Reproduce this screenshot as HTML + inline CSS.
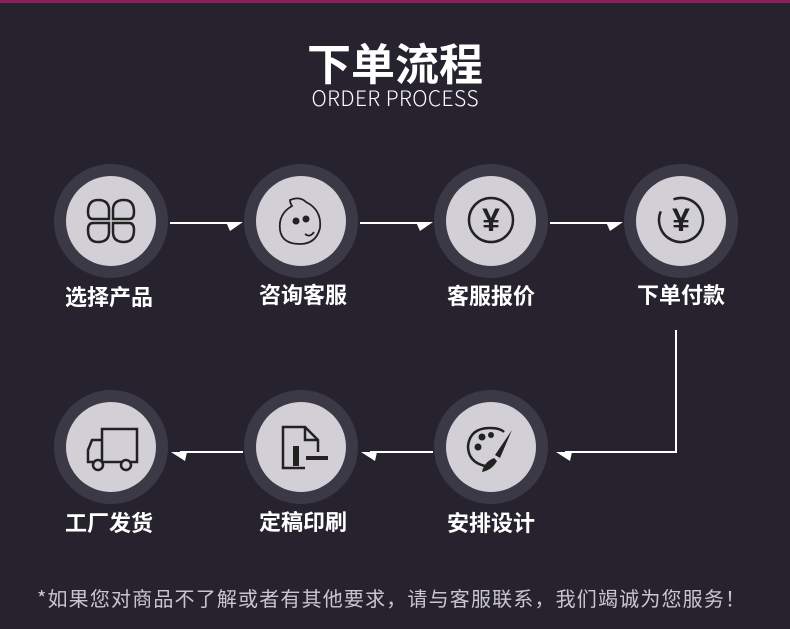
<!DOCTYPE html>
<html><head><meta charset="utf-8"><style>
html,body{margin:0;padding:0;background:#26232f;}
svg{display:block}
text{font-family:"Liberation Sans","Noto Sans CJK SC",sans-serif;}
</style></head><body>
<svg width="790" height="629" viewBox="0 0 790 629" xmlns="http://www.w3.org/2000/svg">
<rect width="790" height="629" fill="#26232f"/>
<rect width="790" height="3" fill="#8a1f5e"/>
<text x="395" y="80" font-size="44" font-weight="bold" fill="#fff" text-anchor="middle" style="font-family:'Noto Sans CJK SC',sans-serif">下单流程</text>
<text x="395" y="106" font-size="21" fill="#fff" text-anchor="middle" textLength="167" style="font-family:'Noto Sans CJK SC',sans-serif;font-weight:300">ORDER PROCESS</text>
<g fill="#3c3946">
<circle cx="111" cy="221" r="57"/><circle cx="301" cy="221" r="57"/><circle cx="491" cy="221" r="57"/><circle cx="681" cy="221" r="57"/>
<circle cx="111" cy="447" r="57"/><circle cx="301" cy="447" r="57"/><circle cx="491" cy="447" r="57"/>
</g>
<g fill="#d2d0d6">
<circle cx="111" cy="221" r="45"/><circle cx="301" cy="221" r="45"/><circle cx="491" cy="221" r="45"/><circle cx="681" cy="221" r="45"/>
<circle cx="111" cy="447" r="45"/><circle cx="301" cy="447" r="45"/><circle cx="491" cy="447" r="45"/>
</g>
<g stroke="#fff" stroke-width="2" fill="none">
<line x1="170" y1="223" x2="235" y2="223"/>
<line x1="360" y1="223" x2="425" y2="223"/>
<line x1="550" y1="223" x2="615" y2="223"/>
<polyline points="676,330 676,452 565,452"/>
<line x1="370" y1="452" x2="433" y2="452"/>
<line x1="180" y1="452" x2="243" y2="452"/>
</g>
<g fill="#fff">
<polygon points="226,222 243,222 230,231"/>
<polygon points="416,222 433,222 420,231"/>
<polygon points="606,222 623,222 610,231"/>
<polygon points="556,452 572,452 570,461"/>
<polygon points="361,452 377,452 375,461"/>
<polygon points="171,452 187,452 185,461"/>
</g>
<g fill="none" stroke="#222" stroke-width="2.5">
<path d="M109,219 L93,219 Q88,219 88,212 Q88,200 98,200 Q109,200 109,210 Z"/>
<path d="M113,219 L129,219 Q134,219 134,212 Q134,200 124,200 Q113,200 113,210 Z"/>
<path d="M109,223 L93,223 Q88,223 88,230 Q88,242 98,242 Q109,242 109,232 Z"/>
<path d="M113,223 L129,223 Q134,223 134,230 Q134,242 124,242 Q113,242 113,232 Z"/>
<path d="M290,200 Q300,196 306,202 Q322,210 320,228 Q316,244 300,244 Q282,244 280,230 Q278,214 292,206 Q290,203 290,200 Z" stroke-width="1.8"/>
<path d="M305,234 Q310,238 314,232" stroke-width="1.8"/>
<circle cx="491" cy="220" r="22"/>
<circle cx="681" cy="220" r="22" stroke-dasharray="120 18" transform="rotate(-110 681 220)"/>
<path d="M102,429 L137,429 L137,462 L102,462 Z M102,440 L92,440 L88,450 L88,462 L102,462"/>
<circle cx="98" cy="465" r="5" fill="#d2d0d6"/><circle cx="126" cy="465" r="5" fill="#d2d0d6"/>
<path d="M305,468 L283,468 L283,427 L305,427 L318,440 L318,452 M305,427 L305,440 L318,440"/>
<line x1="306" y1="458" x2="328" y2="458" stroke-width="4"/>
<path d="M485,466 Q468,462 468,446 Q470,428 490,428 Q500,428 504,432"/>
</g>
<g fill="#222">
<circle cx="296" cy="221" r="3.5"/><circle cx="306" cy="219" r="3.5"/>
<circle cx="482" cy="437" r="3.5"/><circle cx="478" cy="447" r="3.5"/><circle cx="491" cy="435" r="3"/>
<path d="M512,430 L495,455 L500,458 Z"/>
<path d="M494,458 Q484,462 482,472 Q492,470 497,461 Z"/>
<rect x="293" y="446" width="6" height="20"/>
</g>
<g font-size="32" font-weight="bold" fill="#222" text-anchor="middle" style="font-family:'DejaVu Sans',sans-serif">
<text x="491" y="231">¥</text>
<text x="681" y="231">¥</text>
</g>
<g font-size="22" font-weight="bold" fill="#fff" text-anchor="middle" style="font-family:'Noto Sans CJK SC',sans-serif">
<text x="109" y="305">选择产品</text>
<text x="303" y="303">咨询客服</text>
<text x="491" y="304">客服报价</text>
<text x="681" y="303">下单付款</text>
<text x="109" y="531">工厂发货</text>
<text x="303" y="530">定稿印刷</text>
<text x="491" y="531">安排设计</text>
</g>
<text x="391" y="606" font-size="20" fill="#c9c7cd" text-anchor="middle" textLength="708" style="font-family:'Noto Sans CJK SC',sans-serif">*如果您对商品不了解或者有其他要求，请与客服联系，我们竭诚为您服务！</text>
</svg>
</body></html>
